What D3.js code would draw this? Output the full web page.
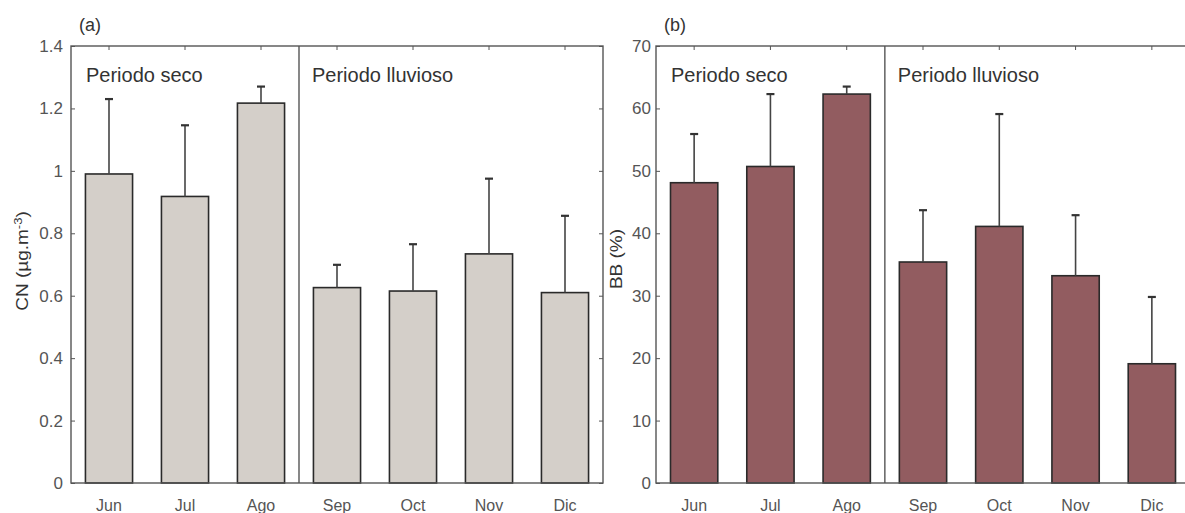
<!DOCTYPE html>
<html><head><meta charset="utf-8">
<script src="https://cdn.jsdelivr.net/npm/d3@7"></script>
<style>body{margin:0;background:#fff}svg{display:block}text{font-family:"Liberation Sans",Arial,sans-serif}</style>
</head><body>
<svg id="c" width="1185" height="513"></svg>
<script>
const months = ["Jun","Jul","Ago","Sep","Oct","Nov","Dic"];
const cnValues = [0.99,0.918,1.217,0.626,0.615,0.734,0.61];
const cnErrTop = [1.23,1.146,1.27,0.699,0.765,0.975,0.856];
const bbValues = [48.1,50.7,62.3,35.4,41.1,33.2,19.1];
const bbErrTop = [55.9,62.3,63.5,43.7,59.1,42.9,29.8];
const cnTicks = [0,0.2,0.4,0.6,0.8,1,1.2,1.4];
const bbTicks = [0,10,20,30,40,50,60,70];
const periodLabels = ["Periodo seco","Periodo lluvioso"];

const svg = d3.select("#c");
const plotTop = 46, plotBottom = 483;

function panel(opt){
  const g = svg.append("g");
  const x = d3.scaleBand().domain(months).range([opt.x0, opt.x1]).paddingInner(0.38).paddingOuter(0.19);
  const y = d3.scaleLinear().domain([0, opt.max]).range([plotBottom, plotTop]);
  const axisCol = "#555";
  g.selectAll("rect.bar").data(months).join("rect")
    .attr("x", d=>x(d)).attr("width", x.bandwidth())
    .attr("y", (d,i)=>y(opt.vals[i])).attr("height",(d,i)=>plotBottom-y(opt.vals[i]))
    .attr("fill", opt.fill).attr("stroke","#2a2a2a").attr("stroke-width",1.6);
  const cx = d=>x(d)+x.bandwidth()/2;
  g.selectAll("line.err").data(months).join("line")
    .attr("x1",cx).attr("x2",cx)
    .attr("y1",(d,i)=>y(opt.vals[i])).attr("y2",(d,i)=>y(opt.err[i]))
    .attr("stroke","#444").attr("stroke-width",1.6);
  g.selectAll("line.cap").data(months).join("line")
    .attr("x1",d=>cx(d)-4).attr("x2",d=>cx(d)+4)
    .attr("y1",(d,i)=>y(opt.err[i])).attr("y2",(d,i)=>y(opt.err[i]))
    .attr("stroke","#333").attr("stroke-width",2.2);
  const yAx = g.append("g").attr("transform",`translate(${opt.x0},0)`)
    .call(d3.axisLeft(y).tickValues(opt.ticks).tickSizeInner(-4).tickSizeOuter(0).tickPadding(opt.tickPad).tickFormat(d=>d3.format("~g")(d)));
  yAx.select(".domain").remove();
  yAx.selectAll("line").attr("stroke",axisCol);
  yAx.selectAll("text").attr("fill","#555").style("font-size","17px");
  const yR = g.append("g").attr("transform",`translate(${opt.x1},0)`)
    .call(d3.axisRight(y).tickValues(opt.ticks).tickSizeInner(-4).tickSizeOuter(0).tickFormat(""));
  yR.select(".domain").remove(); yR.selectAll("line").attr("stroke",axisCol);
  const xAx = g.append("g").attr("transform",`translate(0,${plotBottom})`)
    .call(d3.axisBottom(x).tickSizeInner(0).tickSizeOuter(0).tickPadding(17));
  xAx.select(".domain").remove();
  xAx.selectAll("text").attr("fill","#555").style("font-size","16px");
  const xT = g.append("g").attr("transform",`translate(0,${plotTop})`)
    .call(d3.axisTop(x).tickSizeInner(-4).tickSizeOuter(0).tickFormat(""));
  xT.select(".domain").remove(); xT.selectAll("line").attr("stroke",axisCol);
  g.append("rect").attr("x",opt.x0).attr("y",plotTop).attr("width",opt.x1-opt.x0).attr("height",plotBottom-plotTop)
    .attr("fill","none").attr("stroke",axisCol).attr("stroke-width",1.4);
  const dx = (cx("Ago")+cx("Sep"))/2;
  g.append("line").attr("x1",dx).attr("x2",dx).attr("y1",plotTop).attr("y2",plotBottom).attr("stroke",axisCol).attr("stroke-width",1.4);
  g.append("text").attr("x",opt.x0+15).attr("y",82).attr("fill","#333").style("font-size","20px").text(periodLabels[0]);
  g.append("text").attr("x",dx+13).attr("y",82).attr("fill","#333").style("font-size","20px").text(periodLabels[1]);
  g.append("text").attr("x",opt.x0+8).attr("y",31).attr("fill","#333").style("font-size","18px").text(opt.letter);
  g.append("text").attr("transform",`translate(${opt.labX},${opt.labY}) rotate(-90) scale(1,0.82)`)
    .attr("text-anchor","middle").attr("fill","#333").style("font-size","19px").html(opt.label);
}

panel({x0:71,x1:603,max:1.4,vals:cnValues,err:cnErrTop,ticks:cnTicks,fill:"#d4cfc9",letter:"(a)",tickPad:8,
  label:'CN (µg.m<tspan dy="-7" font-size="13">-3</tspan><tspan dy="7">)</tspan>',labX:28,labY:261});
panel({x0:656,x1:1190,max:70,vals:bbValues,err:bbErrTop,ticks:bbTicks,fill:"#925c60",letter:"(b)",tickPad:5,
  label:'BB (%)',labX:622,labY:259});
</script>
</body></html>
